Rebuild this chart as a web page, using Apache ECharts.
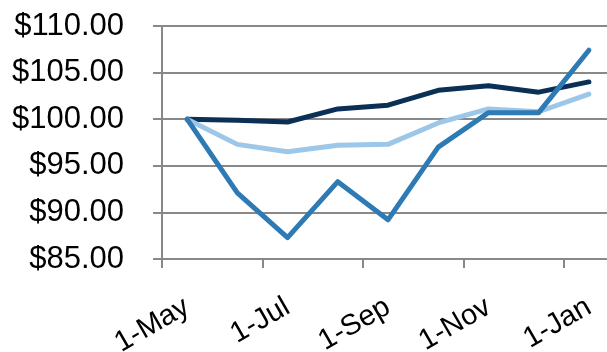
<!DOCTYPE html>
<html>
<head>
<meta charset="utf-8">
<script src="https://cdn.jsdelivr.net/npm/echarts@6/dist/echarts.min.js"></script>
<style>html,body{margin:0;padding:0;background:#fff}#c{width:607px;height:352px}</style>
</head>
<body>
<div id="c"></div>
<script>
const categories = ['1-May','1-Jun','1-Jul','1-Aug','1-Sep','1-Oct','1-Nov','1-Dec','1-Jan'];
const seriesNavy = [100, 99.9, 99.7, 101.1, 101.5, 103.1, 103.6, 102.9, 104.0];
const seriesLight = [100, 97.3, 96.5, 97.2, 97.3, 99.6, 101.1, 100.8, 102.7];
const seriesMedium = [100, 92.1, 87.3, 93.3, 89.2, 97.0, 100.7, 100.7, 107.4];
const yTicks = {min: 85, max: 110, interval: 5};

const chart = echarts.init(document.getElementById('c'), null, {renderer: 'canvas'});
const font = '"Liberation Sans", Arial, sans-serif';
const grey = '#888888';
function line(data, color) {
  return {type: 'line', data: data, symbol: 'none', smooth: false,
    lineStyle: {color: color, width: 5, cap: 'round', join: 'round'}, itemStyle: {color: color}, z: 3};
}
chart.setOption({
  animation: false,
  grid: {left: 162, top: 26, width: 452, bottom: 93, containLabel: false, outerBoundsMode: 'none'},
  xAxis: {
    type: 'category', data: categories, boundaryGap: true,
    axisLine: {show: true, lineStyle: {color: grey, width: 2}},
    axisTick: {show: true, interval: 1, length: 9, lineStyle: {color: grey, width: 2}},
    axisLabel: {interval: 1, rotate: 30, margin: 46, fontSize: 29, color: '#000', fontFamily: font},
    splitLine: {show: false}
  },
  yAxis: {
    type: 'value', min: yTicks.min, max: yTicks.max, interval: yTicks.interval,
    axisLine: {show: true, lineStyle: {color: grey, width: 2}},
    axisTick: {show: true, length: 9, lineStyle: {color: grey, width: 2}},
    axisLabel: {margin: 38, fontSize: 31, color: '#000', fontFamily: font,
      formatter: v => '$' + v.toFixed(2)},
    splitLine: {show: true, lineStyle: {color: grey, width: 2}}
  },
  series: [
    line(seriesNavy, '#0b3056'),
    line(seriesLight, '#9dc7e8'),
    line(seriesMedium, '#2e7ab5')
  ]
});
</script>
</body>
</html>
